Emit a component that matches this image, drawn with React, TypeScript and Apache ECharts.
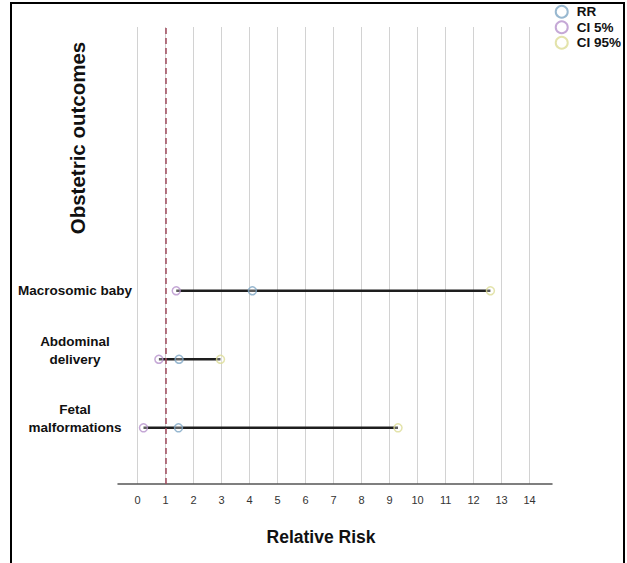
import React, { useEffect, useRef } from "react";
import * as echarts from "echarts";

const outcomes = ["Fetal malformations", "Abdominal delivery", "Macrosomic baby"];
const outcomeLabels = ["Fetal\nmalformations\n ", "Abdominal\ndelivery\n ", "Macrosomic baby"];
const rowPos = [1, 2, 3];
const rr = [1.46, 1.48, 4.1];
const ci5 = [0.21, 0.76, 1.38];
const ci95 = [9.3, 2.96, 12.6];
const xTicks = [0, 1, 2, 3, 4, 5, 6, 7, 8, 9, 10, 11, 12, 13, 14];
const refValue = 1;

const FONT = "'Liberation Sans', Arial, sans-serif";
const colRR = "#7ea6c4";
const col5 = "#b792cc";
const col95 = "#dcdc96";

export default function App() {
  const ref = useRef<HTMLDivElement>(null);
  useEffect(() => {
    document.body.style.margin = "0";
    const chart = echarts.init(ref.current!, null, { renderer: "svg" });
    const lineSeries = outcomes.map((name, i) => ({
      type: "line",
      name: "range-" + name,
      data: [
        [ci5[i], rowPos[i]],
        [ci95[i], rowPos[i]],
      ],
      showSymbol: false,
      symbol: "none",
      silent: true,
      z: 2,
      lineStyle: { color: "#1e1e1e", width: 2.5 },
    }));
    const pointSeries = (name: string, vals: number[], color: string) => ({
      type: "scatter",
      name,
      data: vals.map((v, i) => [v, rowPos[i]]),
      symbol: "circle",
      symbolSize: 8,
      z: 3,
      itemStyle: { color: "rgba(255,255,255,0.35)", borderColor: color, borderWidth: 1.5 },
    });
    chart.setOption({
      animation: false,
      backgroundColor: "#ffffff",
      textStyle: { fontFamily: FONT },
      grid: { left: 118, right: 75, top: 27, bottom: 79 },
      legend: {
        orient: "vertical",
        right: 6,
        top: 4,
        padding: 0,
        icon: "circle",
        itemWidth: 12,
        itemHeight: 12,
        itemGap: 0,
        data: ["RR", "CI 5%", "CI 95%"],
        textStyle: { fontFamily: FONT, fontWeight: "bold", fontSize: 13.5, lineHeight: 15.5, color: "#111", padding: [0, 0, 0, 4] },
      },
      graphic: [
        {
          type: "rect",
          shape: { x: 11, y: 3, width: 613, height: 580 },
          style: { fill: "none", stroke: "#000", lineWidth: 2 },
          silent: true,
        },
        {
          type: "text",
          x: 77,
          y: 138,
          rotation: Math.PI / 2,
          style: {
            text: "Obstetric outcomes",
            font: "bold 20.5px " + FONT,
            fill: "#111",
            align: "center",
            verticalAlign: "middle",
          },
        },
      ],
      xAxis: {
        type: "value",
        min: -0.7,
        max: 14.8,
        name: "Relative Risk",
        nameLocation: "middle",
        nameGap: 44,
        nameTextStyle: { fontFamily: FONT, fontWeight: "bold", fontSize: 17.5, color: "#111", padding: [0, 28, 0, 0] },
        axisLine: { show: true, lineStyle: { color: "#555", width: 1.5 } },
        axisTick: { show: false, customValues: xTicks },
        axisLabel: { customValues: xTicks, fontSize: 11, color: "#333", margin: 10, fontFamily: FONT },
        splitLine: { show: true, lineStyle: { color: "#d2d2d2", width: 1 } },
      },
      yAxis: {
        type: "value",
        min: 0.18,
        max: 6.85,
        axisLine: { show: false },
        axisTick: { show: false, customValues: rowPos },
        splitLine: { show: false },
        axisLabel: {
          customValues: rowPos,
          formatter: (v: number) => outcomeLabels[rowPos.indexOf(v)] ?? "",
          align: "center",
          margin: 43,
          fontSize: 13.5,
          fontWeight: "bold",
          lineHeight: 18,
          color: "#111",
          fontFamily: FONT,
        },
      },
      series: [
        ...lineSeries,
        {
          type: "line",
          name: "ref",
          data: [],
          silent: true,
          markLine: {
            silent: true,
            symbol: "none",
            label: { show: false },
            lineStyle: { color: "#a04a5c", type: [6, 4], width: 1.5 },
            data: [{ xAxis: refValue }],
          },
        },
        pointSeries("RR", rr, colRR),
        pointSeries("CI 5%", ci5, col5),
        pointSeries("CI 95%", ci95, col95),
      ],
    });
    return () => chart.dispose();
  }, []);
  return <div ref={ref} style={{ width: 627, height: 563 }} />;
}
